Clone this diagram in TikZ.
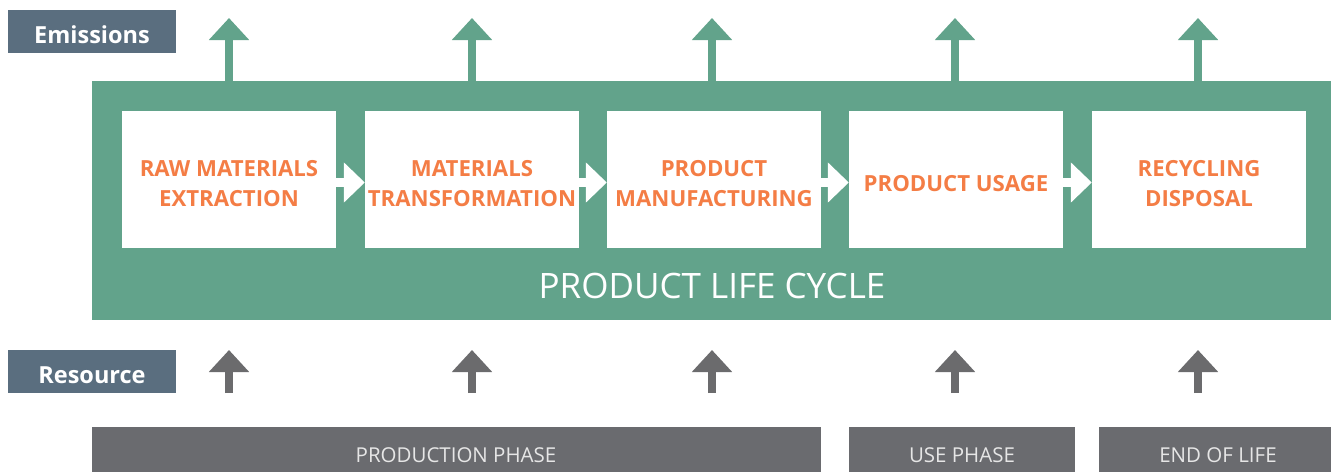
\documentclass[tikz,border=0pt]{standalone}
\usepackage{fontspec}
\setmainfont{Open Sans}
\usetikzlibrary{arrows.meta}
\definecolor{lcgreen}{HTML}{62A38B}
\definecolor{tagblue}{HTML}{5A6E7F}
\definecolor{phasegray}{HTML}{6A6B6F}
\definecolor{resgray}{HTML}{6B6B6D}
\definecolor{stageorange}{HTML}{F47D45}
\definecolor{phasetext}{HTML}{E6E6E6}
\tikzset{
  tagbox/.style={fill=tagblue, minimum width=168pt, minimum height=43pt, inner sep=0pt},
  tagtext/.style={text=white, inner sep=0pt, font=\fontsize{23.5}{26}\selectfont\bfseries},
  stagebox/.style={fill=white, minimum width=214pt, minimum height=137pt, inner sep=0pt},
  stagetext/.style={text=stageorange, align=center, inner sep=0pt,
    font=\fontsize{22.2}{30}\selectfont\bfseries},
  phasebar/.style={fill=phasegray, inner sep=0pt, anchor=north west},
  phaselabel/.style={text=phasetext, inner sep=0pt, font=\fontsize{20.5}{22}\selectfont},
  emit/.style={draw=lcgreen, line width=8pt, -{Triangle[width=39pt,length=22pt]}},
  resin/.style={draw=resgray, line width=8pt, -{Triangle[width=39pt,length=22pt]}},
  flow/.style={draw=white, line width=9pt, -{Triangle[width=39pt,length=21pt]}},
}
\begin{document}
\begin{tikzpicture}[x=1pt, y=-1pt]
  \useasboundingbox (0,0) rectangle (1331,472);

  % row labels
  \node[tagbox] (emis) at (92,31.5) {};
  \node[tagtext] (emistxt) at (92,35) {Emissions};
  \node[tagbox] (res) at (92,371.5) {};
  \node[tagtext] (restxt) at (92,375.5) {Resource};

  % product life cycle frame
  \fill[lcgreen] (92,81) rectangle (1331,320);
  \node[inner sep=0pt, minimum width=1239pt, minimum height=239pt, anchor=north west] (life) at (92,81) {};
  \node[text=white, inner sep=0pt, font=\fontsize{35}{38}\selectfont] (lifetxt) at (712,286) {PRODUCT LIFE CYCLE};

  % stages
  \node[stagebox] (s1) at (229,179.5) {};
  \node[stagebox] (s2) at (472,179.5) {};
  \node[stagebox] (s3) at (714,179.5) {};
  \node[stagebox] (s4) at (956,179.5) {};
  \node[stagebox] (s5) at (1199,179.5) {};

  \node[stagetext] (t1) at (229,184) {RAW MATERIALS\\EXTRACTION};
  \node[stagetext] (t2) at (472,184) {MATERIALS\\TRANSFORMATION};
  \node[stagetext] (t3) at (714,184) {PRODUCT\\MANUFACTURING};
  \node[stagetext] (t4) at (956,184) {PRODUCT USAGE};
  \node[stagetext] (t5) at (1199,184) {RECYCLING\\DISPOSAL};

  % flow between stages
  \foreach \a/\b in {s1/s2, s2/s3, s3/s4, s4/s5}
    \draw[flow] (\a.east |- 0,182.5) -- (\b.west |- 0,182.5);

  % emissions
  \foreach \i/\x in {1/229, 2/472, 3/712, 4/955, 5/1198} {
    \coordinate (e\i) at (\x,18);
    \draw[emit] (e\i |- life.north) -- (e\i);
  }

  % resources
  \foreach \i/\x in {1/229, 2/472, 3/712, 4/955, 5/1198} {
    \coordinate (rb\i) at (\x,393);
    \coordinate (rt\i) at (\x,350);
    \draw[resin] (rb\i) -- (rt\i);
  }

  % phases
  \node[phasebar, minimum width=729pt, minimum height=45pt] (prod) at (92,427) {};
  \node[phasebar, minimum width=226pt, minimum height=45pt] (use) at (849,427) {};
  \node[phasebar, minimum width=232pt, minimum height=45pt] (eol) at (1099,427) {};
  \node[phaselabel] at (456,455) {PRODUCTION PHASE};
  \node[phaselabel] at (962,455) {USE PHASE};
  \node[phaselabel] at (1218,455) {END OF LIFE};
\end{tikzpicture}
\end{document}
